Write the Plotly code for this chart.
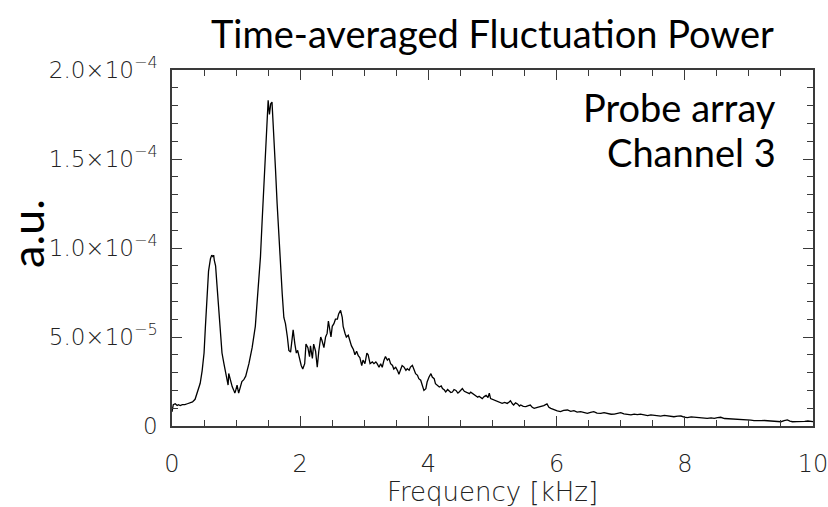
import plotly.graph_objects as go

# Frequency [kHz] and fluctuation power [1e-5 a.u.]
freq_khz = [
    0.00, 0.02, 0.05, 0.08, 0.10, 0.13, 0.16, 0.20, 0.24, 0.28, 0.32, 0.36, 0.39, 0.42, 0.44,
    0.47, 0.50, 0.52, 0.55, 0.57, 0.60, 0.62, 0.64, 0.65, 0.66, 0.68, 0.70, 0.73, 0.755, 0.78,
    0.81, 0.83, 0.86, 0.875, 0.885, 0.91, 0.94, 0.965, 0.98, 0.99, 1.015, 1.04, 1.07, 1.09, 1.12,
    1.15, 1.20, 1.25, 1.30, 1.33, 1.354, 1.38, 1.406, 1.43, 1.458, 1.484, 1.50, 1.52, 1.54, 1.56,
    1.573, 1.59, 1.615, 1.64, 1.667, 1.69, 1.72, 1.745, 1.77, 1.80, 1.823, 1.85, 1.875, 1.89, 1.917,
    1.94, 1.96, 1.99, 2.016, 2.04, 2.07, 2.09, 2.12, 2.146, 2.16, 2.19, 2.21, 2.24, 2.266, 2.29,
    2.32, 2.34, 2.37, 2.396, 2.42, 2.44, 2.46, 2.48, 2.50, 2.526, 2.55, 2.58, 2.60, 2.63, 2.656,
    2.67, 2.70, 2.72, 2.75, 2.776, 2.80, 2.83, 2.854, 2.88, 2.906, 2.93, 2.96, 2.98, 3.01, 3.04,
    3.06, 3.09, 3.125, 3.15, 3.18, 3.20, 3.23, 3.255, 3.28, 3.307, 3.33, 3.36, 3.385, 3.41, 3.44,
    3.46, 3.49, 3.52, 3.54, 3.57, 3.59, 3.62, 3.65, 3.67, 3.70, 3.72, 3.75, 3.78, 3.80, 3.83,
    3.85, 3.88, 3.906, 3.93, 3.96, 3.98, 4.01, 4.04, 4.06, 4.09, 4.11, 4.14, 4.17, 4.20, 4.22,
    4.25, 4.27, 4.30, 4.32, 4.35, 4.375, 4.40, 4.43, 4.46, 4.48, 4.51, 4.53, 4.56, 4.58, 4.61,
    4.64, 4.66, 4.69, 4.72, 4.74, 4.77, 4.79, 4.82, 4.84, 4.87, 4.90, 4.93, 4.95, 4.97, 5.00,
    5.03, 5.06, 5.08, 5.12, 5.15, 5.19, 5.23, 5.26, 5.28, 5.31, 5.33, 5.36, 5.39, 5.42, 5.44,
    5.48, 5.52, 5.56, 5.59, 5.62, 5.65, 5.70, 5.75, 5.80, 5.85, 5.88, 5.91, 5.96, 6.01, 6.06,
    6.11, 6.17, 6.22, 6.27, 6.32, 6.375, 6.43, 6.48, 6.53, 6.58, 6.63, 6.69, 6.74, 6.79, 6.85,
    6.90, 6.95, 7.00, 7.05, 7.10, 7.16, 7.21, 7.26, 7.31, 7.37, 7.42, 7.47, 7.52, 7.57, 7.625,
    7.68, 7.73, 7.78, 7.83, 7.89, 7.94, 7.99, 8.04, 8.10, 8.15, 8.20, 8.25, 8.30, 8.35, 8.41,
    8.46, 8.51, 8.56, 8.62, 8.67, 8.72, 8.77, 8.82, 8.875, 8.93, 8.98, 9.03, 9.08, 9.14, 9.19,
    9.24, 9.29, 9.35, 9.40, 9.45, 9.50, 9.55, 9.60, 9.64, 9.68, 9.75, 9.81, 9.87, 9.92, 9.96,
    10.00,
]
power_e5 = [
    0.80, 1.20, 1.25, 1.15, 1.20, 1.15, 1.20, 1.20, 1.25, 1.30, 1.35, 1.50, 1.80, 2.10, 2.40,
    3.10, 4.10, 5.50, 7.20, 8.70, 9.40, 9.60, 9.50, 9.60, 9.30, 9.00, 8.00, 6.50, 5.00, 4.10,
    3.50, 3.10, 2.45, 2.30, 2.95, 2.60, 2.20, 2.00, 1.85, 1.95, 2.30, 1.85, 2.20, 2.50, 2.60,
    2.80, 3.50, 4.40, 5.60, 6.90, 8.40, 9.50, 11.50, 13.40, 15.30, 17.20, 18.30, 17.50, 18.10, 18.20,
    17.40, 16.20, 14.40, 12.50, 10.60, 8.80, 7.40, 6.10, 5.75, 5.00, 4.25, 4.15, 5.00, 5.40, 4.60,
    4.10, 4.25, 3.70, 3.40, 3.20, 3.50, 4.60, 4.40, 3.90, 4.50, 3.80, 4.60, 4.20, 3.30, 4.20,
    5.00, 4.80, 4.40, 5.00, 5.20, 5.90, 5.40, 5.00, 5.60, 5.75, 6.00, 6.00, 6.30, 6.50, 6.10,
    5.60, 5.20, 5.00, 5.10, 4.80, 4.50, 4.30, 4.00, 4.20, 3.95, 3.85, 3.40, 3.70, 3.50, 4.10,
    4.00, 3.50, 3.60, 3.50, 3.60, 3.50, 3.30, 3.50, 3.30, 3.70, 3.90, 3.70, 3.80, 3.50, 3.40,
    3.20, 3.30, 3.10, 2.90, 3.20, 3.40, 3.31, 3.13, 3.22, 3.13, 3.31, 3.41, 3.13, 2.94, 2.85,
    2.66, 2.57, 2.28, 2.00, 2.10, 2.47, 2.75, 2.94, 2.75, 2.66, 2.38, 2.30, 2.19, 2.25, 2.10,
    2.02, 1.91, 2.05, 2.00, 1.88, 1.91, 2.05, 2.00, 1.85, 1.91, 2.02, 2.10, 1.95, 1.91, 1.85,
    1.82, 1.90, 1.82, 1.75, 1.72, 1.62, 1.67, 1.60, 1.54, 1.65, 1.72, 1.60, 1.85, 1.54, 1.50,
    1.44, 1.40, 1.35, 1.30, 1.27, 1.33, 1.27, 1.35, 1.42, 1.25, 1.18, 1.30, 1.24, 1.12, 1.18,
    1.10, 1.09, 1.15, 1.18, 1.05, 0.99, 1.05, 1.09, 1.15, 1.24, 1.05, 0.99, 0.90, 0.85, 0.81,
    0.88, 0.90, 0.82, 0.86, 0.78, 0.81, 0.76, 0.71, 0.77, 0.81, 0.72, 0.71, 0.75, 0.71, 0.66,
    0.67, 0.70, 0.75, 0.68, 0.66, 0.62, 0.67, 0.64, 0.67, 0.60, 0.58, 0.63, 0.62, 0.57, 0.56,
    0.60, 0.56, 0.53, 0.52, 0.55, 0.56, 0.50, 0.47, 0.51, 0.49, 0.46, 0.47, 0.45, 0.43, 0.46,
    0.43, 0.47, 0.49, 0.42, 0.41, 0.42, 0.39, 0.40, 0.37, 0.38, 0.37, 0.33, 0.30, 0.32, 0.30,
    0.31, 0.30, 0.28, 0.30, 0.27, 0.24, 0.30, 0.34, 0.28, 0.24, 0.25, 0.24, 0.26, 0.28, 0.25,
    0.24,
]

y_tick_vals = [0, 5e-5, 1e-4, 1.5e-4, 2e-4]
y_tick_text = ["0", "5.0×10<sup>−5</sup>", "1.0×10<sup>−4</sup>",
               "1.5×10<sup>−4</sup>", "2.0×10<sup>−4</sup>"]
x_tick_vals = [0, 2, 4, 6, 8, 10]
x_tick_text = ["0", "2", "4", "6", "8", "10"]

title_text = "Time-averaged Fluctuation Power"
x_title = "Frequency [kHz]"
y_title = "a.u."
label_lines = ["Probe array", "Channel 3"]

power = [v * 1e-5 for v in power_e5]

fig = go.Figure()
fig.add_trace(go.Scatter(x=freq_khz, y=power, mode="lines",
                         line=dict(color="#000000", width=1.3),
                         showlegend=False, hoverinfo="skip"))

axis_col = "#3a3a3a"
lbl_col = "#222222"

fig.update_xaxes(range=[0, 10], tickmode="array", tickvals=x_tick_vals, ticktext=x_tick_text,
                 ticks="inside", ticklen=10, tickwidth=1.3, tickcolor=axis_col,
                 minor=dict(ticks="inside", dtick=0.5,
                            ticklen=6, tickwidth=1.3, tickcolor=axis_col),
                 showline=True, linecolor=axis_col, linewidth=1.5, mirror="ticks",
                 showgrid=False, zeroline=False, ticklabeloverflow="allow", automargin=False,
                 tickfont=dict(family="DejaVu Sans", size=24, color=lbl_col, weight=200),
                 ticklabelstandoff=15,
                 title=dict(text=x_title,
                            font=dict(family="DejaVu Sans", size=26, color=lbl_col, weight=200),
                            standoff=14))
fig.update_yaxes(range=[0, 2e-4], tickmode="array", tickvals=y_tick_vals, ticktext=y_tick_text,
                 ticks="inside", ticklen=10, tickwidth=1.3, tickcolor=axis_col,
                 minor=dict(ticks="inside", dtick=1e-5,
                            ticklen=6, tickwidth=1.3, tickcolor=axis_col),
                 showline=True, linecolor=axis_col, linewidth=1.5, mirror="ticks",
                 showgrid=False, zeroline=False, ticklabeloverflow="allow", automargin=False,
                 tickfont=dict(family="DejaVu Sans", size=23, color=lbl_col, weight=200),
                 ticklabelstandoff=8)

fig.add_annotation(text=title_text, xref="paper", yref="paper", x=0.5, y=1.105,
                   xanchor="center", yanchor="middle", showarrow=False,
                   font=dict(family="Lato", size=38, color="#000000"))
fig.add_annotation(text=y_title, xref="paper", yref="paper", x=-0.226, y=0.54,
                   xanchor="center", yanchor="middle", showarrow=False, textangle=-90,
                   font=dict(family="Lato", size=45, color="#000000"))
fig.add_annotation(text=label_lines[0], xref="paper", yref="paper", x=0.945, y=0.895,
                   xanchor="right", yanchor="middle", showarrow=False,
                   font=dict(family="Lato", size=38, color="#000000"))
fig.add_annotation(text=label_lines[1], xref="paper", yref="paper", x=0.945, y=0.77,
                   xanchor="right", yanchor="middle", showarrow=False,
                   font=dict(family="Lato", size=38, color="#000000"))

fig.update_layout(width=828, height=507, margin=dict(l=172, r=15, t=70, b=81, autoexpand=False),
                  paper_bgcolor="white", plot_bgcolor="white")

fig.write_html("out.html")
